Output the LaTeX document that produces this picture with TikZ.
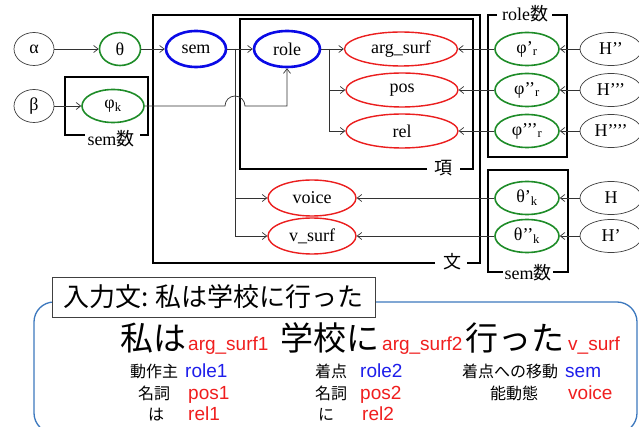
\documentclass[tikz,border=0pt]{standalone}
\usepackage{fontspec}
\setmainfont{Liberation Serif}
\newfontfamily\jp{Noto Sans CJK JP}
\newfontfamily\lsans{Liberation Sans}
\usetikzlibrary{arrows.meta,shapes.geometric}
\definecolor{mygreen}{RGB}{30,140,40}
\definecolor{myblue}{RGB}{10,10,230}
\definecolor{myred}{RGB}{235,30,30}
\definecolor{txtblue}{RGB}{30,30,235}
\definecolor{txtred}{RGB}{240,30,30}
\definecolor{boxblue}{RGB}{60,120,190}
\begin{document}
\begin{tikzpicture}[x=1pt,y=-1pt,
  every node/.style={inner sep=0pt, font=\fontsize{18}{20}\selectfont},
  plainell/.style={ellipse, draw=black!75, fill=white, line width=0.7pt, minimum width=40pt, minimum height=33pt},
  grnell/.style={ellipse, draw=mygreen, fill=white, line width=1.6pt, minimum width=64pt, minimum height=33pt},
  bluell/.style={ellipse, draw=myblue, fill=white, line width=2.6pt, minimum height=36pt},
  redell/.style={ellipse, draw=myred, fill=white, line width=1.4pt, minimum height=34pt},
  con/.style={draw=black!80, line width=0.7pt, -{Straight Barb[length=4.5pt,width=7pt]}},
  frm/.style={draw=black, line width=1.5pt},
  jlab/.style={font=\fontsize{18}{20}\selectfont},
  big/.style={anchor=base west, font=\jp\fontsize{33}{36}\selectfont},
  sub/.style={anchor=base west, text=txtred, font=\lsans\fontsize{19}{20}\selectfont},
  jsm/.style={anchor=base west, font=\jp\fontsize{16}{18}\selectfont},
  lsb/.style={anchor=base west, text=txtblue, font=\lsans\fontsize{19}{20}\selectfont},
  lsr/.style={anchor=base west, text=txtred, font=\lsans\fontsize{19}{20}\selectfont},
]
\useasboundingbox (0,0) rectangle (639,427);
\fill[white] (0,0) rectangle (639,427);

% frames
\draw[frm] (435,263) -- (153,263) -- (153,15) -- (480,15) -- (480,263) -- (467,263);
\node[jlab] (wenlab) at (452,262) {\jp 文};
\draw[frm] (427,169) -- (240,169) -- (240,19) -- (473,19) -- (473,169) -- (460,169);
\node[jlab] (xianglab) at (443,168) {\jp 項};
\draw[frm] (497,15) -- (488,15) -- (488,157) -- (567,157) -- (567,15) -- (552,15);
\node[jlab] (rolelab) at (525,14) {role{\jp 数}};
\draw[frm] (503,272) -- (488,272) -- (488,170) -- (568,170) -- (568,272) -- (553,272);
\node[jlab] (semlabR) at (528,273) {sem{\jp 数}};
\draw[frm] (85,135) -- (65,135) -- (65,77) -- (148,77) -- (148,135) -- (140,135);
\node[jlab] (semlabL) at (111,139) {sem{\jp 数}};

% nodes
\node[plainell] (alpha) at (34,49) {α};
\node[grnell, minimum width=41pt] (theta) at (120,49) {θ};
\node[bluell, minimum width=60pt] (sem) at (196,49) {sem};
\node[bluell, minimum width=66pt] (role) at (287,49) {role};
\node[redell, minimum width=113pt] (argsurf) at (401,49) {arg\_surf};
\node[redell, minimum width=112pt] (pos) at (402,90) {pos};
\node[redell, minimum width=112pt] (rel) at (402,131) {rel};
\node[plainell] (beta) at (34,106) {β};
\node[grnell, minimum width=62pt] (phik) at (113,106) {φ\textsubscript{k}};
\node[grnell] (phi1) at (527,49) {φ’\textsubscript{r}};
\node[grnell] (phi2) at (527,90) {φ’’\textsubscript{r}};
\node[grnell] (phi3) at (527,131) {φ’’’\textsubscript{r}};
\node[plainell, minimum width=62pt] (H2) at (611,49) {H’’};
\node[plainell, minimum width=62pt] (H3) at (611,90) {H’’’};
\node[plainell, minimum width=62pt] (H4) at (611,131) {H’’’’};
\node[redell, minimum width=88pt, minimum height=36pt] (voice) at (312,198) {voice};
\node[redell, minimum width=88pt, minimum height=36pt] (vsurf) at (312,236) {v\_surf};
\node[grnell] (th1) at (527,198) {θ’\textsubscript{k}};
\node[grnell] (th2) at (527,236) {θ’’\textsubscript{k}};
\node[plainell, minimum width=62pt] (H0) at (611,198) {H};
\node[plainell, minimum width=62pt] (H1) at (611,236) {H’};

% connectors
\draw[con] (alpha) -- (theta);
\draw[con] (theta) -- (sem);
\draw[con] (sem) -- (role);
\coordinate (sbr) at (235,49);
\draw[con] (sbr) |- (voice.west);
\draw[con] (sbr) |- (vsurf.west);
\draw[con] (beta) -- (phik);
\coordinate (hump) at (225,106);
\draw[con] (phik.east) -- (hump) arc[start angle=180, end angle=0, radius=10pt] -- (role.south |- phik.east) -- (role.south);
\draw[con] (role) -- (argsurf);
\coordinate (rbr) at (329,49);
\draw[con] (rbr) |- (pos.west);
\draw[con] (rbr) |- (rel.west);
\draw[con] (phi1) -- (argsurf);
\draw[con] (phi2) -- (pos);
\draw[con] (phi3) -- (rel);
\draw[con] (H2) -- (phi1);
\draw[con] (H3) -- (phi2);
\draw[con] (H4) -- (phi3);
\draw[con] (th1) -- (voice);
\draw[con] (th2) -- (vsurf);
\draw[con] (H0) -- (th1);
\draw[con] (H1) -- (th2);

% bottom panel
\draw[draw=boxblue, line width=1.3pt, rounded corners=20pt] (34,302) rectangle (637,433);
\node[draw=black!75, fill=white, line width=0.8pt, minimum width=323pt, minimum height=40pt, font=\jp\fontsize{26}{28}\selectfont] (input) at (213.5,297) {入力文: 私は学校に行った};

\node[big] (w1) at (120,350) {私は};
\node[sub] (s1) at (188,350) {arg\_surf1};
\node[big] (w2) at (280,350) {学校に};
\node[sub] (s2) at (382,350) {arg\_surf2};
\node[big] (w3) at (465,350) {行った};
\node[sub] (s3) at (568,350) {v\_surf};

\node[jsm] (a1) at (130,377) {動作主};
\node[lsb] (b1) at (185,377) {role1};
\node[jsm] (a2) at (315,377) {着点};
\node[lsb] (b2) at (360,377) {role2};
\node[jsm] (a3) at (462,377) {着点への移動};
\node[lsb] (b3) at (565,377) {sem};

\node[jsm] (c1) at (138,399) {名詞};
\node[lsr] (d1) at (188,399) {pos1};
\node[jsm] (c2) at (315,399) {名詞};
\node[lsr] (d2) at (360,399) {pos2};
\node[jsm] (c3) at (490,399) {能動態};
\node[lsr] (d3) at (568,399) {voice};

\node[jsm] (e1) at (148,420) {は};
\node[lsr] (f1) at (188,420) {rel1};
\node[jsm] (e2) at (318,420) {に};
\node[lsr] (f2) at (362,420) {rel2};
\end{tikzpicture}
\end{document}
